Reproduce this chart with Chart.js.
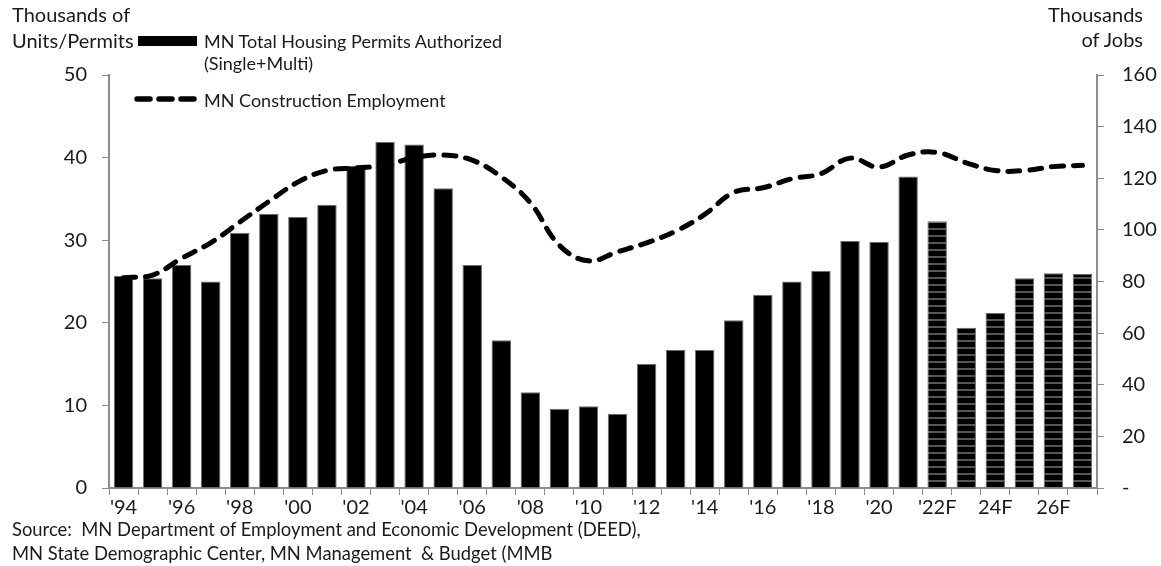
<!DOCTYPE html>
<html>
<head>
<meta charset="utf-8">
<script src="https://cdn.jsdelivr.net/npm/chart.js@4.4.1/dist/chart.umd.min.js"></script>
<style>
  html, body { margin: 0; padding: 0; background: #fff; }
  #wrap { position: relative; width: 1161px; height: 566px; font-family: Lato, "Open Sans", sans-serif; color: #1a1a1a; }
  canvas { position: absolute; left: 0; top: 0; }
  .t { position: absolute; white-space: nowrap; line-height: 1; }
  .ax { font-size: 20px; }
  .lg { font-size: 18px; }
  .src { font-size: 18.4px; }
</style>
</head>
<body>
<div id="wrap">
  <canvas id="housingChart" width="1161" height="566"></canvas>

  <div class="t ax" style="left:12px; top:4px;">Thousands of</div>
  <div class="t ax" style="left:12px; top:30px;">Units/Permits</div>
  <div class="t ax" style="right:18px; top:4px; text-align:right;">Thousands</div>
  <div class="t ax" style="right:18px; top:29px; text-align:right;">of Jobs</div>

  <div style="position:absolute; left:138px; top:36px; width:59px; height:10px; background:#000;"></div>
  <div class="t lg" style="left:204px; top:32px;">MN Total Housing Permits Authorized</div>
  <div class="t lg" style="left:204px; top:54px;">(Single+Multi)</div>
  <svg style="position:absolute; left:130px; top:93px;" width="72" height="12">
    <line x1="7" y1="6" x2="65" y2="6" stroke="#000" stroke-width="5.5" stroke-linecap="round" stroke-dasharray="13 9"/>
  </svg>
  <div class="t lg" style="left:204px; top:91px;">MN Construction Employment</div>

  <div class="t src" style="left:12px; top:520px;">Source:&nbsp; MN Department of Employment and Economic Development (DEED),</div>
  <div class="t src" style="left:12px; top:544px;">MN State Demographic Center, MN Management &nbsp;&amp; Budget (MMB</div>
</div>

<script>
const years = ['1994','1995','1996','1997','1998','1999','2000','2001','2002','2003','2004','2005',
    '2006','2007','2008','2009','2010','2011','2012','2013','2014','2015','2016','2017','2018','2019',
    '2020','2021','2022','2023','2024','2025','2026','2027'];
const tickLabels = ["'94","","'96","","'98","","'00","","'02","","'04","","'06","","'08","","'10","",
    "'12","","'14","","'16","","'18","","'20","","'22F","","24F","","26F",""];
// first forecast year (index into years)
const firstForecast = 28;

// thousands of units / permits (left axis)
const permits = [25.7, 25.4, 27.0, 25.0, 30.9, 33.2, 32.8, 34.3, 39.0, 41.9, 41.6, 36.3,
    27.0, 17.9, 11.6, 9.6, 9.9, 9.0, 15.0, 16.7, 16.7, 20.3, 23.4, 25.0, 26.3, 29.9,
    29.8, 37.7, 32.3, 19.4, 21.2, 25.4, 26.0, 25.9];

// thousands of jobs (right axis)
const employment = [81.5, 82.5, 89, 95, 103, 111, 118.5, 123, 124, 125, 128, 129,
    127, 120.5, 110.5, 94, 88, 91.5, 95, 99.5, 106, 114.5, 116.3, 119.8, 121.8, 127.8,
    124.3, 129, 130, 126, 123, 123, 124.5, 125];

const leftTicks = [0, 10, 20, 30, 40, 50];
const rightTicks = [0, 20, 40, 60, 80, 100, 120, 140, 160];

// striped fill for forecast bars
function stripes() {
    const c = document.createElement('canvas');
    c.width = 4; c.height = 7;
    const g = c.getContext('2d');
    g.fillStyle = '#000';
    g.fillRect(0, 0, 4, 7);
    g.fillStyle = '#555';
    g.fillRect(0, 4, 4, 2);
    return g.createPattern(c, 'repeat');
}
const stripe = stripes();
const barColors = years.map((y, i) => i >= firstForecast ? stripe : '#000');

const axisColor = '#8c8c8c';
const tickFont = { family: 'Lato, "Open Sans", sans-serif', size: 20 };

new Chart(document.getElementById('housingChart'), {
    type: 'bar',
    data: {
        labels: years,
        datasets: [{
            type: 'line',
            label: 'MN Construction Employment',
            data: employment,
            yAxisID: 'yJobs',
            borderColor: '#000',
            borderWidth: 5,
            borderDash: [12, 10],
            borderCapStyle: 'round',
            pointRadius: 0,
            tension: 0.4,
            fill: false,
            order: 0
        }, {
            label: 'MN Total Housing Permits Authorized (Single+Multi)',
            data: permits,
            yAxisID: 'yUnits',
            backgroundColor: barColors,
            borderColor: '#6e6e6e',
            borderWidth: 1,
            barPercentage: 0.67,
            categoryPercentage: 1.0,
            order: 1
        }]
    },
    options: {
        responsive: false,
        animation: false,
        layout: { padding: { top: 75, left: 0, right: 0, bottom: 0 } },
        plugins: { legend: { display: false }, tooltip: { enabled: false } },
        scales: {
            x: {
                grid: { display: true, offset: true, drawOnChartArea: false, drawTicks: true, tickLength: 7, color: axisColor },
                border: { color: axisColor, width: 2 },
                ticks: {
                    autoSkip: false, maxRotation: 0, color: '#1a1a1a', font: tickFont, padding: 1,
                    callback: (v, i) => tickLabels[i]
                },
                afterFit: s => { s.height = 78; }
            },
            yUnits: {
                position: 'left',
                min: 0, max: 50,
                afterBuildTicks: s => { s.ticks = leftTicks.map(v => ({ value: v })); },
                grid: { display: true, drawOnChartArea: false, drawTicks: true, tickLength: 7, color: axisColor },
                border: { color: axisColor, width: 2 },
                ticks: { color: '#1a1a1a', font: tickFont, padding: 15 },
                afterFit: s => { s.width = 109; }
            },
            yJobs: {
                position: 'right',
                min: 0, max: 160,
                afterBuildTicks: s => { s.ticks = rightTicks.map(v => ({ value: v })); },
                grid: { display: true, drawOnChartArea: false, drawTicks: true, tickLength: 7, color: axisColor },
                border: { color: axisColor, width: 2 },
                ticks: { color: '#1a1a1a', font: tickFont, padding: 18, callback: v => v === 0 ? '-' : v },
                afterFit: s => { s.width = 64; }
            }
        }
    }
});
</script>
</body>
</html>
